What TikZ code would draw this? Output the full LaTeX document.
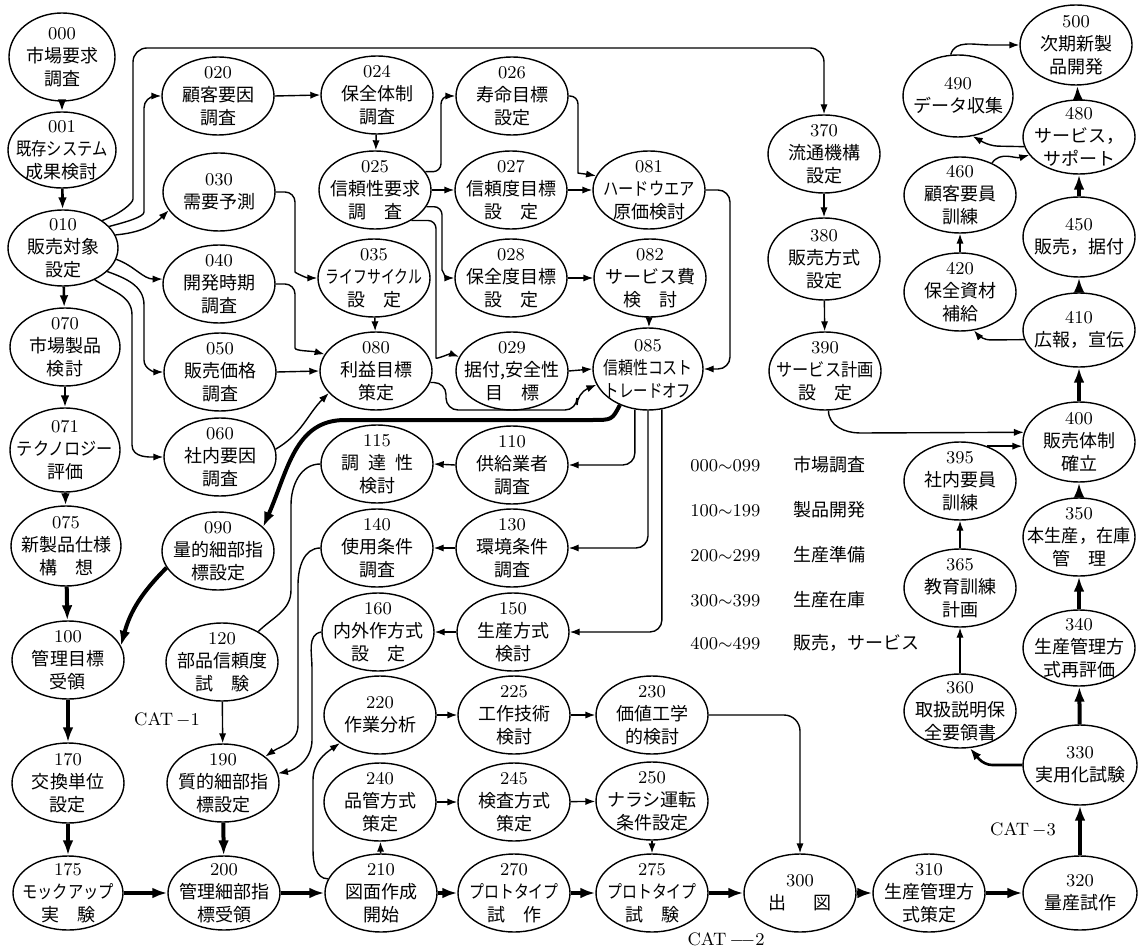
\documentclass[tikz,border=0pt]{standalone}
\usepackage{fontspec}
\usepackage{graphicx}
\newfontfamily\jp{Noto Sans CJK JP}
\usetikzlibrary{arrows.meta,shapes.geometric}
\newcommand\sq[2][0.83]{\scalebox{#1}[1]{#2}}
\newcommand\enode[5][]{\node[el,#1] (#2) at (#3) {};\node[lbl] (#2-t) at (#2.center) {{\rmfamily #4}\\#5};}
\tikzset{
  el/.style={draw,ellipse,line width=0.7pt,minimum width=56pt,minimum height=39pt,inner sep=0pt},
  lbl/.style={align=center,inner sep=0pt,font=\fontsize{9}{11.5}\selectfont\jp},
  leg/.style={inner sep=0pt,font=\fontsize{9}{11}\selectfont},
  ta/.style={line width=0.7pt,-{Latex[length=5pt,width=3.6pt]}},
  tl/.style={line width=0.7pt},
  ma/.style={line width=1.3pt,-{Latex[length=6pt,width=4.4pt]}},
  ka/.style={line width=2pt,-{Latex[length=7.5pt,width=5.4pt]}},
}
\begin{document}
\begin{tikzpicture}[x=0.5pt,y=-0.5pt]
\path[fill=white,use as bounding box] (0,0) rectangle (1143,951);
% column 1
\enode[minimum width=53pt,minimum height=44pt]{n000}{62,57}{000}{市場要求\\調査}
\enode[minimum width=54pt,minimum height=38pt]{n001}{62,150}{001}{\sq[0.85]{既存システム}\\成果検討}
\enode[minimum width=55pt,minimum height=38pt]{n010}{63,248}{010}{販売対象\\設定}
\enode[minimum width=55pt]{n070}{65,347}{070}{市場製品\\検討}
\enode[minimum width=55pt,minimum height=42pt]{n071}{65,450}{071}{\sq[0.9]{テクノロジー}\\評価}
\enode[minimum width=55pt,minimum height=40pt]{n075}{66,546}{075}{新製品仕様\\構　想}
\enode{n100}{68,660}{100}{管理目標\\受領}
\enode[minimum height=40pt]{n170}{68,783}{170}{交換単位\\設定}
\enode[minimum width=55pt,minimum height=37pt]{n175}{68,893}{175}{\sq[0.85]{モックアップ}\\実　験}
% column 2
\enode{n020}{218,96}{020}{顧客要因\\調査}
\enode{n030}{219,192}{030}{需要予測}
\enode{n040}{219,284}{040}{開発時期\\調査}
\enode{n050}{220,372}{050}{販売価格\\調査}
\enode{n060}{220,457}{060}{社内要因\\調査}
\enode{n090}{218,551}{090}{量的細部指\\標設定}
\enode{n120}{222,662}{120}{部品信頼度\\試　験}
\enode{n190}{223,783}{190}{質的細部指\\標設定}
\enode[minimum height=37pt]{n200}{224,893}{200}{管理細部指\\標受領}
% column 3
\enode{n024}{377,95}{024}{保全体制\\調査}
\enode{n025}{375,190}{025}{信頼性要求\\調　査}
\enode{n035}{374,278}{035}{\sq[0.77]{ライフサイクル}\\設　定}
\enode{n080}{376,371}{080}{利益目標\\策定}
\enode{n115}{377,464}{115}{調\hspace{0.5em}達\hspace{0.5em}性\\検討}
\enode{n140}{377,548}{140}{使用条件\\調査}
\enode{n160}{378,632}{160}{内外作方式\\設　定}
\enode{n220}{380,715}{220}{作業分析}
\enode{n240}{380,802}{240}{品管方式\\策定}
\enode{n210}{381,893}{210}{図面作成\\開始}
% column 4
\enode{n026}{512,96}{026}{寿命目標\\設定}
\enode{n027}{511,190}{027}{信頼度目標\\設　定}
\enode{n028}{511,278}{028}{保全度目標\\設　定}
\enode{n029}{512,371}{029}{据付,安全性\\目　標}
\enode{n110}{512,465}{110}{供給業者\\調査}
\enode{n130}{512,548}{130}{環境条件\\調査}
\enode{n150}{513,632}{150}{生産方式\\検討}
\enode{n225}{514,715}{225}{工作技術\\検討}
\enode{n245}{514,802}{245}{検査方式\\策定}
\enode{n270}{514,893}{270}{\sq{プロトタイプ}\\試　作}
% column 5
\enode{n081}{649,190}{081}{\sq[0.85]{ハードウエア}\\原価検討}
\enode{n082}{650,278}{082}{サービス費\\検　討}
\enode[minimum width=55pt,minimum height=41pt]{n085}{648,369}{085}{\sq{信頼性コスト}\\\sq[0.8]{トレードオフ}}
\enode{n230}{652,715}{230}{価値工学\\的検討}
\enode{n250}{652,801}{250}{ナラシ運転\\条件設定}
\enode{n275}{652,893}{275}{\sq{プロトタイプ}\\試　験}
% column 6
\enode{n370}{824,154}{370}{流通機構\\設定}
\enode[minimum height=41pt]{n380}{824,259}{380}{販売方式\\設定}
\enode{n390}{825,371}{390}{\sq[0.9]{サービス計画}\\設　定}
\enode{n300}{800,893}{300}{出\hspace{1.5em}図}
\enode{n310}{929,893}{310}{生産管理方\\式策定}
% column 7
\enode[minimum width=55pt,minimum height=41pt]{n490}{958,96}{490}{データ収集}
\enode[minimum height=38pt]{n460}{960,195}{460}{顧客要員\\訓練}
\enode{n420}{960,292}{420}{保全資材\\補給}
\enode{n395}{960,481}{395}{社内要員\\訓練}
\enode{n365}{960,588}{365}{教育訓練\\計画}
\enode[minimum height=37pt]{n360}{960,711}{360}{取扱説明保\\全要領書}
% column 8
\enode[minimum height=40pt]{n500}{1076,45}{500}{次期新製\\品開発}
\enode[minimum height=37pt]{n480}{1079,137}{480}{サービス，\\サポート}
\enode[minimum height=40pt]{n450}{1079,237}{450}{販売，据付}
\enode[minimum height=37pt]{n410}{1079,330}{410}{広報，宣伝}
\enode[minimum height=40pt]{n400}{1079,442}{400}{販売体制\\確立}
\enode{n350}{1079,537}{350}{\sq[0.95]{本生産，在庫}\\管　理}
\enode[minimum height=38pt]{n340}{1079,648}{340}{生産管理方\\式再評価}
\enode[minimum width=57pt,minimum height=40pt]{n330}{1080,765}{330}{実用化試験}
\enode[minimum width=57pt,minimum height=37pt]{n320}{1080,893}{320}{量産試作}
% legend and labels
\node[leg,anchor=base west] (g0a) at (690,471) {000$\sim$099};
\node[leg,anchor=base west] (g0b) at (793,471) {\jp 市場調査};
\node[leg,anchor=base west] (g1a) at (690,516) {100$\sim$199};
\node[leg,anchor=base west] (g1b) at (793,516) {\jp 製品開発};
\node[leg,anchor=base west] (g2a) at (690,561) {200$\sim$299};
\node[leg,anchor=base west] (g2b) at (793,561) {\jp 生産準備};
\node[leg,anchor=base west] (g3a) at (690,606) {300$\sim$399};
\node[leg,anchor=base west] (g3b) at (793,606) {\jp 生産在庫};
\node[leg,anchor=base west] (g4a) at (690,649) {400$\sim$499};
\node[leg,anchor=base west] (g4b) at (793,649) {\jp 販売，サービス};
\node[leg] (cat1) at (167,720) {CAT\,$-$1};
\node[leg] (cat2) at (726,940) {CAT\,$-\!-$2};
\node[leg] (cat3) at (1023,830) {CAT\,$-$3};
% column 1 chain
\draw[ma] (n000) -- (n001);
\draw[ma] (n001) -- (n010);
\draw[ma] (n010) -- (n070);
\draw[ma] (n070) -- (n071);
\draw[ma] (n071) -- (n075);
\draw[ka] (n075) -- (n100);
\draw[ka] (n100) -- (n170);
\draw[ka] (n170) -- (n175);
% bottom row
\draw[ka] (n175) -- (n200);
\draw[ka] (n200) -- (n210);
\draw[ka] (n210) -- (n270);
\draw[ka] (n270) -- (n275);
\draw[ka] (n275) -- (n300);
\draw[ka] (n300) -- (n310);
\draw[ka] (n310) -- (n320);
% right column
\draw[ka] (n320) -- (n330);
\draw[ka] (n330) -- (n340);
\draw[ka] (n340) -- (n350);
\draw[ka] (n350) -- (n400);
\draw[ka] (n400) -- (n410);
\draw[ka] (n410) -- (n450);
\draw[ka] (n450) -- (n480);
\draw[ka] (n480) -- (n500);
\draw[ka] (n190) -- (n200);
\draw[ta] (n120) -- (n190);
% fan out of 010
\draw[ta,rounded corners=7pt] (n010.35) to[out=20,in=-90] (133,185) -- (133,48) -- (824,48) -- (n370.north);
\draw[ta,rounded corners=6pt] (n010.25) to[out=15,in=-90] (144,200) -- (144,96) -- (n020.west);
\draw[ta] (n010.14) to[out=5,in=225] (n030.200);
\draw[ta] (n010.-12) to[out=-20,in=180] (n040.175);
\draw[ta] (n010.-28) to[out=-20,in=90] (144,305) -- (144,360) to[out=-90,in=180] (n050.west);
\draw[ta] (n010.-45) to[out=-35,in=90] (132,315) -- (132,445) to[out=-90,in=180] (n060.west);
% market survey block
\draw[ta] (n020.east) -- (n024.west);
\draw[ta] (n024) -- (n025);
\draw[ta,rounded corners=4pt] (n025.20) -| (441,96) -- (n026.west);
\draw[ta] (n025.east) -- (n027.west);
\draw[ta,rounded corners=4pt] (n025.-18) -| (442,262) to[out=-90,in=180] (n028.west);
\draw[ta,rounded corners=4pt] (n025.-40) -| (436,350) to[out=-90,in=160] (n029.165);
\draw[ta,rounded corners=5pt] (n030.east) -| (295,262) to[out=-90,in=180] (n035.west);
\draw[ta,rounded corners=5pt] (n040.east) -| (295,338) to[out=-90,in=165] (n080.162);
\draw[ta] (n050.east) -- (n080.west);
\draw[ta] (n060.8) to[out=30,in=225] (n080.205);
\draw[ta] (n035) -- (n080);
\draw[ta,rounded corners=4pt] (n026.east) -| (578,165) to[out=-90,in=170] (n081.165);
\draw[ta] (n027.east) -- (n081.west);
\draw[ta] (n028.east) -- (n082.west);
\draw[ta] (n082) -- (n085);
\draw[ta,rounded corners=6pt] (n081.east) -| (730,369) -- (n085.east);
\draw[ta] (n029.east) -- (n085.west);
\draw[ta,rounded corners=6pt] (n080.-12) -| (446,410) -| (577,393) -- (n085.197);
% trade-off outputs
\draw[ka] (n085.232) .. controls (612,420) .. (592,420) -- (345,420) .. controls (295,420) and (288,470) .. (n090.28);
\draw[ta,rounded corners=6pt] (n085.-108) |- (n110.east);
\draw[ta,rounded corners=6pt] (n085.south) |- (n130.east);
\draw[ta,rounded corners=6pt] (n085.-71) |- (n150.east);
\draw[ta] (n110.west) -- (n115.east);
\draw[ta] (n130.west) -- (n140.east);
\draw[ta] (n150.west) -- (n160.east);
\draw[tl] (n115.west) to[out=180,in=90] (291,505) -- (291,590) to[out=-90,in=45] (n120.40);
\draw[ta] (n140.west) to[out=180,in=90] (298,585) -- (298,725) to[out=-90,in=35] (n190.32);
\draw[ta] (n160.west) to[out=190,in=90] (312,668) -- (312,740) to[out=-90,in=10] (n190.10);
\draw[ka] (n090.198) to[out=225,in=75] (n100.15);
% production preparation
\draw[ta] (n210.165) to[out=180,in=-90] (313,850) -- (313,780) to[out=90,in=215] (n220.215);
\draw[ta] (n210) -- (n240);
\draw[ta] (n220) -- (n225);
\draw[ta] (n225) -- (n230);
\draw[ta] (n240) -- (n245);
\draw[ta] (n245) -- (n250);
\draw[ta] (n250) -- (n275);
\draw[ta,rounded corners=8pt] (n230.east) -| (n300.north);
% sales
\draw[ta] (n370) -- (n380);
\draw[ta] (n380) -- (n390);
\draw[ta] (n390.-85) to[out=-90,in=180] (860,433) -- (n400.170);
\draw[ta] (n395.52) -- (n395.52 -| n400.west);
\draw[ta] (n365) -- (n395);
\draw[ta] (n360) -- (n365);
\draw[ma,rounded corners=4pt] (n330.west) -- (984,765) -- (n360.-75);
\draw[ta] (n420) -- (n460);
\draw[ta] (n460.45) to[out=55,in=195] (n480.200);
\draw[ta,rounded corners=4pt] (n480.190) -- (990,146) -- (n490.-70);
\draw[ta] (n490.100) to[out=75,in=180] (990,45) -- (n500.west);
\draw[ta,rounded corners=4pt] (n410.190) -- (982,340) -- (n420.-70);
\end{tikzpicture}
\end{document}
